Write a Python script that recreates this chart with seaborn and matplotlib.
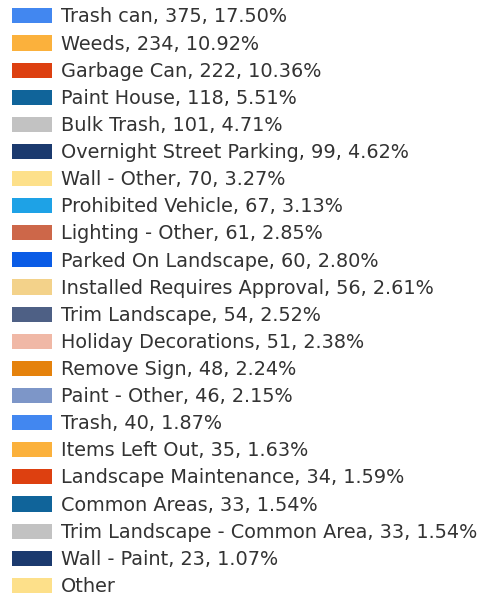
import matplotlib
matplotlib.use("Agg")
import matplotlib.pyplot as plt
import seaborn as sns
import pandas as pd
import numpy as np

categories = [
    "Trash can", "Weeds", "Garbage Can", "Paint House", "Bulk Trash",
    "Overnight Street Parking", "Wall - Other", "Prohibited Vehicle",
    "Lighting - Other", "Parked On Landscape", "Installed Requires Approval",
    "Trim Landscape", "Holiday Decorations", "Remove Sign", "Paint - Other",
    "Trash", "Items Left Out", "Landscape Maintenance", "Common Areas",
    "Trim Landscape - Common Area", "Wall - Paint", "Other",
]
counts = [375, 234, 222, 118, 101, 99, 70, 67, 61, 60, 56, 54, 51, 48, 46,
          40, 35, 34, 33, 33, 23, None]
percents = [17.50, 10.92, 10.36, 5.51, 4.71, 4.62, 3.27, 3.13, 2.85, 2.80,
            2.61, 2.52, 2.38, 2.24, 2.15, 1.87, 1.63, 1.59, 1.54, 1.54, 1.07,
            None]
base_colors = ["#4287f0", "#fbb13c", "#dd4010", "#10649a", "#c2c2c2",
               "#1b3a6e", "#fde08a", "#1ea2e6", "#cd6749", "#0a5ce6",
               "#f3d28a", "#4e6085", "#f0b8a6", "#e5820c", "#7d96c8"]

labels = []
for c, n, p in zip(categories, counts, percents):
    if n is None:
        labels.append(c)
    else:
        labels.append(f"{c}, {n}, {p:.2f}%")
colors = [base_colors[i % len(base_colors)] for i in range(len(labels))]

df = pd.DataFrame({"label": labels,
                   "percent": [np.nan if p is None else p for p in percents]})

sns.set_theme(style="white")
plt.rcParams["font.family"] = ["DejaVu Sans"]

fig = plt.figure(figsize=(4.85, 5.98), dpi=100)
ax = fig.add_axes([0, 0, 1, 1])
sns.barplot(data=df, x="label", y="percent", hue="label", hue_order=labels,
            palette=colors, saturation=1, ax=ax, legend=True)
handles, labs = ax.get_legend_handles_labels()
if ax.get_legend() is not None:
    ax.get_legend().remove()
ax.set_visible(False)

fs = 13.85
px = fs * 100 / 72
leg = fig.legend(handles, labs, loc="upper left",
                 bbox_to_anchor=(12 / 485, 1 - 7.5 / 598),
                 frameon=False, fontsize=fs, borderpad=0, borderaxespad=0,
                 handlelength=40 / px, handleheight=16 / px,
                 handletextpad=9 / px, labelspacing=0.422)
for t in leg.get_texts():
    t.set_color("#333333")
for h in leg.legend_handles:
    h.set_edgecolor("none")

fig.savefig("out.png", dpi=100, facecolor="white")
